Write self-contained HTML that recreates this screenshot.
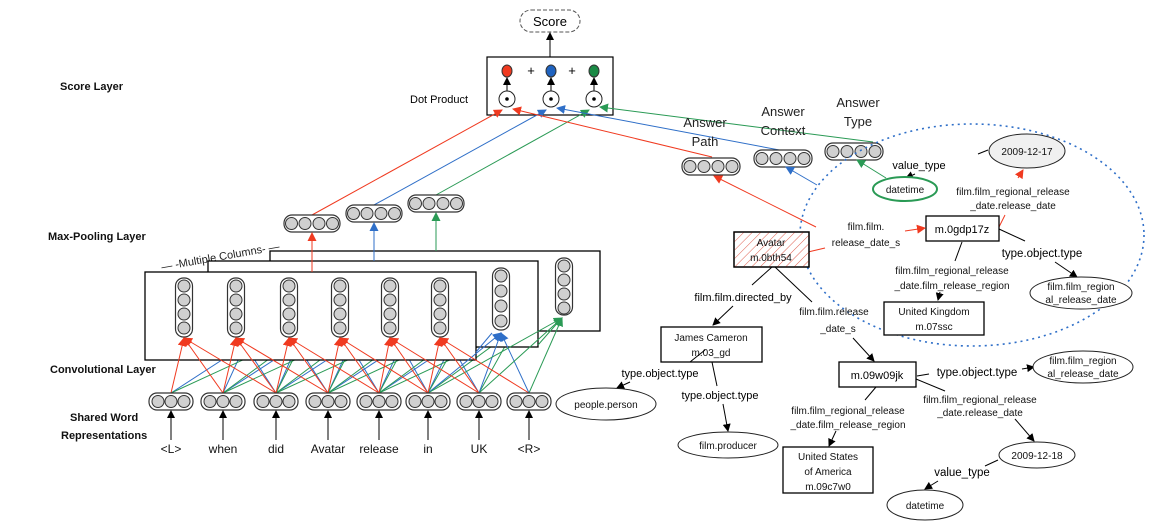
<!DOCTYPE html>
<html><head><meta charset="utf-8"><style>
html,body{margin:0;padding:0;background:#fff;}
svg{display:block;font-family:"Liberation Sans",sans-serif;}
.v{fill:#fff;stroke:#333;stroke-width:1.2}
.c{fill:#d0d0d0;stroke:#333;stroke-width:1}
.k{stroke:#000;stroke-width:1;fill:none}
.r{stroke:#f03a20;stroke-width:1;fill:none}
.b{stroke:#2f6fc8;stroke-width:1;fill:none}
.g{stroke:#2a9a55;stroke-width:1;fill:none}
.t{font-size:10px;fill:#111}
.L{font-size:11px;font-weight:bold;fill:#111}
</style></head><body>
<svg width="1157" height="524" viewBox="0 0 1157 524" xmlns="http://www.w3.org/2000/svg">
<defs>
<marker id="ak" markerWidth="8" markerHeight="8" refX="7" refY="4" orient="auto" markerUnits="userSpaceOnUse"><path d="M0,0L8,4L0,8z" fill="#000"/></marker>
<marker id="ar" markerWidth="9" markerHeight="9" refX="8" refY="4.5" orient="auto" markerUnits="userSpaceOnUse"><path d="M0,0L9,4.5L0,9z" fill="#f03a20"/></marker>
<marker id="ab" markerWidth="9" markerHeight="9" refX="8" refY="4.5" orient="auto" markerUnits="userSpaceOnUse"><path d="M0,0L9,4.5L0,9z" fill="#2f6fc8"/></marker>
<marker id="ag" markerWidth="9" markerHeight="9" refX="8" refY="4.5" orient="auto" markerUnits="userSpaceOnUse"><path d="M0,0L9,4.5L0,9z" fill="#2a9a55"/></marker>
<pattern id="hatch" width="6" height="6" patternUnits="userSpaceOnUse" patternTransform="rotate(45)"><line x1="0" y1="0" x2="0" y2="6" stroke="#e06050" stroke-width="1"/></pattern>
</defs>

<!-- layer labels -->
<text class="L" x="60" y="90">Score Layer</text>
<text class="L" x="48" y="240">Max-Pooling Layer</text>
<text class="L" x="50" y="373">Convolutional Layer</text>
<text class="L" x="70" y="421">Shared Word</text>
<text class="L" x="61" y="439">Representations</text>
<text x="160" y="262" font-size="11" fill="#222" transform="rotate(-10 210 255)">— -Multiple Columns- —</text>

<!-- score -->
<rect x="520" y="10" width="60" height="22" rx="11" fill="#fff" stroke="#555" stroke-dasharray="4,2"/>
<text x="550" y="26" font-size="13" text-anchor="middle">Score</text>
<line class="k" x1="550" y1="57" x2="550" y2="33" marker-end="url(#ak)"/>
<rect x="487" y="57" width="126" height="58" fill="#fff" stroke="#000" stroke-width="1.2"/>
<text x="410" y="103" font-size="11">Dot Product</text>
<ellipse cx="507" cy="71" rx="5" ry="6" fill="#f03a20" stroke="#333"/>
<ellipse cx="551" cy="71" rx="5" ry="6" fill="#1f63c0" stroke="#333"/>
<ellipse cx="594" cy="71" rx="5" ry="6" fill="#1a8a45" stroke="#333"/>
<text x="531" y="75" font-size="13" text-anchor="middle">+</text>
<text x="572" y="75" font-size="13" text-anchor="middle">+</text>
<g class="k"><line x1="507" y1="91" x2="507" y2="78" marker-end="url(#ak)"/><line x1="551" y1="91" x2="551" y2="78" marker-end="url(#ak)"/><line x1="594" y1="91" x2="594" y2="78" marker-end="url(#ak)"/></g>
<g fill="#fff" stroke="#222"><circle cx="507" cy="99" r="8"/><circle cx="551" cy="99" r="8"/><circle cx="594" cy="99" r="8"/></g>
<g fill="#000"><circle cx="507" cy="99" r="1.8"/><circle cx="551" cy="99" r="1.8"/><circle cx="594" cy="99" r="1.8"/></g>

<!-- lines to dot product -->
<line class="r" x1="312" y1="215" x2="502" y2="110" marker-end="url(#ar)"/>
<line class="b" x1="374" y1="205" x2="546" y2="110" marker-end="url(#ab)"/>
<line class="g" x1="436" y1="195" x2="589" y2="110" marker-end="url(#ag)"/>
<line class="r" x1="712" y1="157" x2="513" y2="109" marker-end="url(#ar)"/>
<line class="b" x1="790" y1="152" x2="557" y2="108" marker-end="url(#ab)"/>
<line class="g" x1="873" y1="142" x2="600" y2="107" marker-end="url(#ag)"/>

<!-- max pool vectors -->
<g><rect class="v" x="284" y="215" width="56" height="17" rx="8"/><circle class="c" cx="291.5" cy="223.5" r="6"/><circle class="c" cx="305" cy="223.5" r="6"/><circle class="c" cx="319" cy="223.5" r="6"/><circle class="c" cx="332.5" cy="223.5" r="6"/></g>
<g><rect class="v" x="346" y="205" width="56" height="17" rx="8"/><circle class="c" cx="353.5" cy="213.5" r="6"/><circle class="c" cx="367" cy="213.5" r="6"/><circle class="c" cx="381" cy="213.5" r="6"/><circle class="c" cx="394.5" cy="213.5" r="6"/></g>
<g><rect class="v" x="408" y="195" width="56" height="17" rx="8"/><circle class="c" cx="415.5" cy="203.5" r="6"/><circle class="c" cx="429" cy="203.5" r="6"/><circle class="c" cx="443" cy="203.5" r="6"/><circle class="c" cx="456.5" cy="203.5" r="6"/></g>

<!-- hidden blue/green conv lines -->
<g class="b">
<line x1="171" y1="393" x2="245" y2="345"/><line x1="223" y1="393" x2="245" y2="345"/><line x1="276" y1="393" x2="245" y2="345"/>
<line x1="223" y1="393" x2="297" y2="345"/><line x1="276" y1="393" x2="297" y2="345"/><line x1="328" y1="393" x2="297" y2="345"/>
<line x1="276" y1="393" x2="350" y2="345"/><line x1="328" y1="393" x2="350" y2="345"/><line x1="379" y1="393" x2="350" y2="345"/>
<line x1="328" y1="393" x2="401" y2="345"/><line x1="379" y1="393" x2="401" y2="345"/><line x1="428" y1="393" x2="401" y2="345"/>
<line x1="379" y1="393" x2="451" y2="345"/><line x1="428" y1="393" x2="451" y2="345"/><line x1="479" y1="393" x2="451" y2="345"/>
</g>
<g class="g">
<line x1="171" y1="393" x2="308" y2="330"/><line x1="223" y1="393" x2="308" y2="330"/><line x1="276" y1="393" x2="308" y2="330"/>
<line x1="223" y1="393" x2="360" y2="330"/><line x1="276" y1="393" x2="360" y2="330"/><line x1="328" y1="393" x2="360" y2="330"/>
<line x1="276" y1="393" x2="413" y2="330"/><line x1="328" y1="393" x2="413" y2="330"/><line x1="379" y1="393" x2="413" y2="330"/>
<line x1="328" y1="393" x2="464" y2="330"/><line x1="379" y1="393" x2="464" y2="330"/><line x1="428" y1="393" x2="464" y2="330"/>
<line x1="379" y1="393" x2="514" y2="330"/><line x1="428" y1="393" x2="514" y2="330"/><line x1="479" y1="393" x2="514" y2="330"/>
</g>

<!-- conv boxes -->
<rect x="270" y="251" width="330" height="80" fill="#fff" stroke="#000" stroke-width="1.3"/>
<line class="g" x1="436" y1="251" x2="436" y2="213" marker-end="url(#ag)"/>
<g><rect class="v" x="555.5" y="258" width="17" height="57" rx="8"/><circle class="c" cx="564" cy="266" r="6"/><circle class="c" cx="564" cy="280" r="6"/><circle class="c" cx="564" cy="294" r="6"/><circle class="c" cx="564" cy="308" r="6"/></g>
<rect x="208" y="261" width="330" height="86" fill="#fff" stroke="#000" stroke-width="1.3"/>
<line class="b" x1="374" y1="261" x2="374" y2="223" marker-end="url(#ab)"/>
<g><rect class="v" x="492.5" y="268" width="17" height="62" rx="8"/><circle class="c" cx="501" cy="276" r="6"/><circle class="c" cx="501" cy="291" r="6"/><circle class="c" cx="501" cy="306" r="6"/><circle class="c" cx="501" cy="321" r="6"/></g>
<rect x="145" y="272" width="331" height="88" fill="#fff" stroke="#000" stroke-width="1.3"/>
<line class="r" x1="312" y1="272" x2="312" y2="233" marker-end="url(#ar)"/>

<!-- visible blue/green -->
<g class="b"><line x1="428" y1="393" x2="501" y2="333" marker-end="url(#ab)"/><line x1="479" y1="393" x2="501" y2="333" marker-end="url(#ab)"/><line x1="529" y1="393" x2="501" y2="333" marker-end="url(#ab)"/><line x1="476" y1="352" x2="492" y2="333"/></g>
<g class="g"><line x1="428" y1="393" x2="562" y2="318" marker-end="url(#ag)"/><line x1="479" y1="393" x2="562" y2="318" marker-end="url(#ag)"/><line x1="529" y1="393" x2="562" y2="318" marker-end="url(#ag)"/><line x1="538" y1="345" x2="560" y2="320"/></g>

<!-- front vectors -->
<g>
<rect class="v" x="175.5" y="278" width="17" height="59" rx="8"/><circle class="c" cx="184" cy="286" r="6"/><circle class="c" cx="184" cy="300" r="6"/><circle class="c" cx="184" cy="314" r="6"/><circle class="c" cx="184" cy="328" r="6"/>
<rect class="v" x="227.5" y="278" width="17" height="59" rx="8"/><circle class="c" cx="236" cy="286" r="6"/><circle class="c" cx="236" cy="300" r="6"/><circle class="c" cx="236" cy="314" r="6"/><circle class="c" cx="236" cy="328" r="6"/>
<rect class="v" x="280.5" y="278" width="17" height="59" rx="8"/><circle class="c" cx="289" cy="286" r="6"/><circle class="c" cx="289" cy="300" r="6"/><circle class="c" cx="289" cy="314" r="6"/><circle class="c" cx="289" cy="328" r="6"/>
<rect class="v" x="331.5" y="278" width="17" height="59" rx="8"/><circle class="c" cx="340" cy="286" r="6"/><circle class="c" cx="340" cy="300" r="6"/><circle class="c" cx="340" cy="314" r="6"/><circle class="c" cx="340" cy="328" r="6"/>
<rect class="v" x="381.5" y="278" width="17" height="59" rx="8"/><circle class="c" cx="390" cy="286" r="6"/><circle class="c" cx="390" cy="300" r="6"/><circle class="c" cx="390" cy="314" r="6"/><circle class="c" cx="390" cy="328" r="6"/>
<rect class="v" x="431.5" y="278" width="17" height="59" rx="8"/><circle class="c" cx="440" cy="286" r="6"/><circle class="c" cx="440" cy="300" r="6"/><circle class="c" cx="440" cy="314" r="6"/><circle class="c" cx="440" cy="328" r="6"/>
</g>

<!-- red conv lines -->
<g class="r">
<line x1="171" y1="393" x2="184" y2="338" marker-end="url(#ar)"/><line x1="223" y1="393" x2="184" y2="338" marker-end="url(#ar)"/><line x1="276" y1="393" x2="184" y2="338" marker-end="url(#ar)"/>
<line x1="223" y1="393" x2="236" y2="338" marker-end="url(#ar)"/><line x1="276" y1="393" x2="236" y2="338" marker-end="url(#ar)"/><line x1="328" y1="393" x2="236" y2="338" marker-end="url(#ar)"/>
<line x1="276" y1="393" x2="289" y2="338" marker-end="url(#ar)"/><line x1="328" y1="393" x2="289" y2="338" marker-end="url(#ar)"/><line x1="379" y1="393" x2="289" y2="338" marker-end="url(#ar)"/>
<line x1="328" y1="393" x2="340" y2="338" marker-end="url(#ar)"/><line x1="379" y1="393" x2="340" y2="338" marker-end="url(#ar)"/><line x1="428" y1="393" x2="340" y2="338" marker-end="url(#ar)"/>
<line x1="379" y1="393" x2="390" y2="338" marker-end="url(#ar)"/><line x1="428" y1="393" x2="390" y2="338" marker-end="url(#ar)"/><line x1="479" y1="393" x2="390" y2="338" marker-end="url(#ar)"/>
<line x1="428" y1="393" x2="440" y2="338" marker-end="url(#ar)"/><line x1="479" y1="393" x2="440" y2="338" marker-end="url(#ar)"/><line x1="529" y1="393" x2="440" y2="338" marker-end="url(#ar)"/>
</g>

<!-- word vectors -->
<g>
<rect class="v" x="149" y="393" width="44" height="17" rx="8"/><circle class="c" cx="158" cy="401.5" r="6"/><circle class="c" cx="171" cy="401.5" r="6"/><circle class="c" cx="184" cy="401.5" r="6"/>
<rect class="v" x="201" y="393" width="44" height="17" rx="8"/><circle class="c" cx="210" cy="401.5" r="6"/><circle class="c" cx="223" cy="401.5" r="6"/><circle class="c" cx="236" cy="401.5" r="6"/>
<rect class="v" x="254" y="393" width="44" height="17" rx="8"/><circle class="c" cx="263" cy="401.5" r="6"/><circle class="c" cx="276" cy="401.5" r="6"/><circle class="c" cx="289" cy="401.5" r="6"/>
<rect class="v" x="306" y="393" width="44" height="17" rx="8"/><circle class="c" cx="315" cy="401.5" r="6"/><circle class="c" cx="328" cy="401.5" r="6"/><circle class="c" cx="341" cy="401.5" r="6"/>
<rect class="v" x="357" y="393" width="44" height="17" rx="8"/><circle class="c" cx="366" cy="401.5" r="6"/><circle class="c" cx="379" cy="401.5" r="6"/><circle class="c" cx="392" cy="401.5" r="6"/>
<rect class="v" x="406" y="393" width="44" height="17" rx="8"/><circle class="c" cx="415" cy="401.5" r="6"/><circle class="c" cx="428" cy="401.5" r="6"/><circle class="c" cx="441" cy="401.5" r="6"/>
<rect class="v" x="457" y="393" width="44" height="17" rx="8"/><circle class="c" cx="466" cy="401.5" r="6"/><circle class="c" cx="479" cy="401.5" r="6"/><circle class="c" cx="492" cy="401.5" r="6"/>
<rect class="v" x="507" y="393" width="44" height="17" rx="8"/><circle class="c" cx="516" cy="401.5" r="6"/><circle class="c" cx="529" cy="401.5" r="6"/><circle class="c" cx="542" cy="401.5" r="6"/>
</g>
<g class="k">
<line x1="171" y1="440" x2="171" y2="411" marker-end="url(#ak)"/><line x1="223" y1="440" x2="223" y2="411" marker-end="url(#ak)"/><line x1="276" y1="440" x2="276" y2="411" marker-end="url(#ak)"/><line x1="328" y1="440" x2="328" y2="411" marker-end="url(#ak)"/>
<line x1="379" y1="440" x2="379" y2="411" marker-end="url(#ak)"/><line x1="428" y1="440" x2="428" y2="411" marker-end="url(#ak)"/><line x1="479" y1="440" x2="479" y2="411" marker-end="url(#ak)"/><line x1="529" y1="440" x2="529" y2="411" marker-end="url(#ak)"/>
</g>
<g font-size="12" text-anchor="middle" fill="#111">
<text x="171" y="453">&lt;L&gt;</text><text x="223" y="453">when</text><text x="276" y="453">did</text><text x="328" y="453">Avatar</text><text x="379" y="453">release</text><text x="428" y="453">in</text><text x="479" y="453">UK</text><text x="529" y="453">&lt;R&gt;</text>
</g>

<!-- answer vectors -->
<g font-size="13" text-anchor="middle" fill="#222">
<text x="705" y="127">Answer</text><text x="705" y="146">Path</text>
<text x="783" y="116">Answer</text><text x="783" y="135">Context</text>
<text x="858" y="107">Answer</text><text x="858" y="126">Type</text>
</g>
<g><rect class="v" x="682" y="158" width="58" height="17" rx="8"/><circle class="c" cx="690" cy="166.5" r="6"/><circle class="c" cx="704" cy="166.5" r="6"/><circle class="c" cx="718" cy="166.5" r="6"/><circle class="c" cx="732" cy="166.5" r="6"/></g>
<g><rect class="v" x="754" y="150" width="58" height="17" rx="8"/><circle class="c" cx="762" cy="158.5" r="6"/><circle class="c" cx="776" cy="158.5" r="6"/><circle class="c" cx="790" cy="158.5" r="6"/><circle class="c" cx="804" cy="158.5" r="6"/></g>
<g><rect class="v" x="825" y="143" width="58" height="17" rx="8"/><circle class="c" cx="833" cy="151.5" r="6"/><circle class="c" cx="847" cy="151.5" r="6"/><circle class="c" cx="861" cy="151.5" r="6"/><circle class="c" cx="875" cy="151.5" r="6"/></g>

<!-- dotted ellipse -->
<ellipse cx="972" cy="235" rx="172" ry="111" fill="none" stroke="#2f6fc8" stroke-width="1.6" stroke-dasharray="2,4"/>

<line class="r" x1="816" y1="227" x2="714" y2="176" marker-end="url(#ar)"/>
<line class="b" x1="817" y1="185" x2="786" y2="167" marker-end="url(#ab)"/>
<line class="g" x1="886" y1="178" x2="857" y2="160" marker-end="url(#ag)"/>

<!-- graph nodes -->
<ellipse cx="1027" cy="151" rx="38" ry="17" fill="#f0f0f0" stroke="#222"/>
<text class="t" x="1027" y="155" text-anchor="middle">2009-12-17</text>
<line class="k" x1="988" y1="150" x2="978" y2="154"/>
<text x="919" y="169" font-size="11" text-anchor="middle">value_type</text>
<line class="k" x1="915" y1="174" x2="906" y2="178" marker-end="url(#ak)"/>
<ellipse cx="905" cy="189" rx="32" ry="12" fill="#fff" stroke="#2a9a55" stroke-width="2"/>
<text class="t" x="905" y="193" text-anchor="middle" font-size="11">datetime</text>
<text class="t" x="1013" y="195" text-anchor="middle">film.film_regional_release</text>
<text class="t" x="1013" y="209" text-anchor="middle">_date.release_date</text>
<line class="r" x1="999" y1="227" x2="1005" y2="215"/>
<line class="r" x1="1018" y1="178" x2="1023" y2="170" marker-end="url(#ar)"/>
<rect x="926" y="216" width="73" height="25" fill="#fff" stroke="#000" stroke-width="1.3"/>
<text x="962" y="233" font-size="11" text-anchor="middle">m.0gdp17z</text>
<text class="t" x="866" y="230" text-anchor="middle">film.film.</text>
<text class="t" x="866" y="246" text-anchor="middle">release_date_s</text>
<line class="r" x1="808" y1="252" x2="825" y2="248"/>
<line class="r" x1="905" y1="231" x2="925" y2="228" marker-end="url(#ar)"/>
<line class="k" x1="999" y1="229" x2="1025" y2="241"/>
<text x="1042" y="257" font-size="11.5" text-anchor="middle">type.object.type</text>
<line class="k" x1="1055" y1="262" x2="1077" y2="277" marker-end="url(#ak)"/>
<ellipse cx="1081" cy="293" rx="51" ry="16" fill="#fff" stroke="#222"/>
<text class="t" x="1081" y="290" text-anchor="middle" font-size="9">film.film_region</text>
<text class="t" x="1081" y="303" text-anchor="middle" font-size="9">al_release_date</text>
<line class="k" x1="962" y1="242" x2="955" y2="261"/>
<text class="t" x="952" y="274" text-anchor="middle">film.film_regional_release</text>
<text class="t" x="952" y="289" text-anchor="middle">_date.film_release_region</text>
<line class="k" x1="940" y1="292" x2="938" y2="300" marker-end="url(#ak)"/>
<rect x="884" y="302" width="100" height="33" fill="#fff" stroke="#000" stroke-width="1.3"/>
<text class="t" x="934" y="315" text-anchor="middle" font-size="10.5">United Kingdom</text>
<text class="t" x="934" y="330" text-anchor="middle" font-size="10.5">m.07ssc</text>

<rect x="734" y="232" width="75" height="35" fill="#fff" stroke="#000" stroke-width="1.3"/>
<rect x="734" y="232" width="75" height="35" fill="url(#hatch)" stroke="#000" stroke-width="1.3"/>
<text class="t" x="771" y="246" text-anchor="middle" font-size="10.5">Avatar</text>
<text class="t" x="771" y="261" text-anchor="middle" font-size="10.5">m.0bth54</text>
<line class="k" x1="772" y1="267" x2="752" y2="285"/>
<text x="743" y="301" font-size="11" text-anchor="middle">film.film.directed_by</text>
<line class="k" x1="733" y1="306" x2="713" y2="325" marker-end="url(#ak)"/>
<rect x="661" y="327" width="101" height="35" fill="#fff" stroke="#000" stroke-width="1.3"/>
<text class="t" x="711" y="341" text-anchor="middle" font-size="10.5">James Cameron</text>
<text class="t" x="711" y="356" text-anchor="middle" font-size="10.5">m.03_gd</text>
<line class="k" x1="775" y1="267" x2="812" y2="302"/>
<text class="t" x="834" y="315" text-anchor="middle" font-size="10.5">film.film.release</text>
<text class="t" x="838" y="332" text-anchor="middle" font-size="10.5">_date_s</text>
<line class="k" x1="853" y1="338" x2="874" y2="361" marker-end="url(#ak)"/>
<rect x="839" y="362" width="77" height="25" fill="#fff" stroke="#000" stroke-width="1.3"/>
<text x="877" y="379" font-size="11" text-anchor="middle">m.09w09jk</text>
<line class="k" x1="917" y1="376" x2="929" y2="374"/>
<text x="977" y="376" font-size="11.5" text-anchor="middle">type.object.type</text>
<line class="k" x1="1022" y1="369" x2="1034" y2="367" marker-end="url(#ak)"/>
<ellipse cx="1083" cy="367" rx="50" ry="16" fill="#fff" stroke="#222"/>
<text class="t" x="1083" y="364" text-anchor="middle" font-size="9">film.film_region</text>
<text class="t" x="1083" y="377" text-anchor="middle" font-size="9">al_release_date</text>
<line class="k" x1="916" y1="379" x2="945" y2="391"/>
<text class="t" x="980" y="403" text-anchor="middle">film.film_regional_release</text>
<text class="t" x="980" y="416" text-anchor="middle">_date.release_date</text>
<line class="k" x1="1015" y1="419" x2="1034" y2="441" marker-end="url(#ak)"/>
<ellipse cx="1037" cy="455" rx="38" ry="13" fill="#fff" stroke="#222"/>
<text class="t" x="1037" y="459" text-anchor="middle">2009-12-18</text>
<line class="k" x1="998" y1="460" x2="985" y2="466"/>
<text x="962" y="476" font-size="11.5" text-anchor="middle">value_type</text>
<line class="k" x1="938" y1="481" x2="925" y2="489" marker-end="url(#ak)"/>
<ellipse cx="925" cy="505" rx="38" ry="15" fill="#fff" stroke="#222"/>
<text class="t" x="925" y="509" text-anchor="middle">datetime</text>
<line class="k" x1="876" y1="387" x2="865" y2="400"/>
<text class="t" x="848" y="414" text-anchor="middle">film.film_regional_release</text>
<text class="t" x="848" y="428" text-anchor="middle">_date.film_release_region</text>
<line class="k" x1="836" y1="431" x2="829" y2="446" marker-end="url(#ak)"/>
<rect x="783" y="447" width="90" height="46" fill="#fff" stroke="#000" stroke-width="1.3"/>
<text class="t" x="828" y="460" text-anchor="middle" font-size="10.5">United States</text>
<text class="t" x="828" y="475" text-anchor="middle" font-size="10.5">of America</text>
<text class="t" x="828" y="490" text-anchor="middle" font-size="10.5">m.09c7w0</text>

<line class="k" x1="712" y1="362" x2="717" y2="386"/>
<text x="720" y="399" font-size="11" text-anchor="middle">type.object.type</text>
<line class="k" x1="723" y1="404" x2="728" y2="431" marker-end="url(#ak)"/>
<ellipse cx="728" cy="445" rx="50" ry="13" fill="#fff" stroke="#222"/>
<text class="t" x="728" y="449" text-anchor="middle">film.producer</text>
<line class="k" x1="705" y1="350" x2="690" y2="362"/>
<text x="660" y="377" font-size="11" text-anchor="middle">type.object.type</text>
<line class="k" x1="630" y1="382" x2="617" y2="388" marker-end="url(#ak)"/>
<ellipse cx="606" cy="404" rx="50" ry="16" fill="#fff" stroke="#222"/>
<text class="t" x="606" y="408" text-anchor="middle" font-size="9">people.person</text>
</svg>
</body></html>
